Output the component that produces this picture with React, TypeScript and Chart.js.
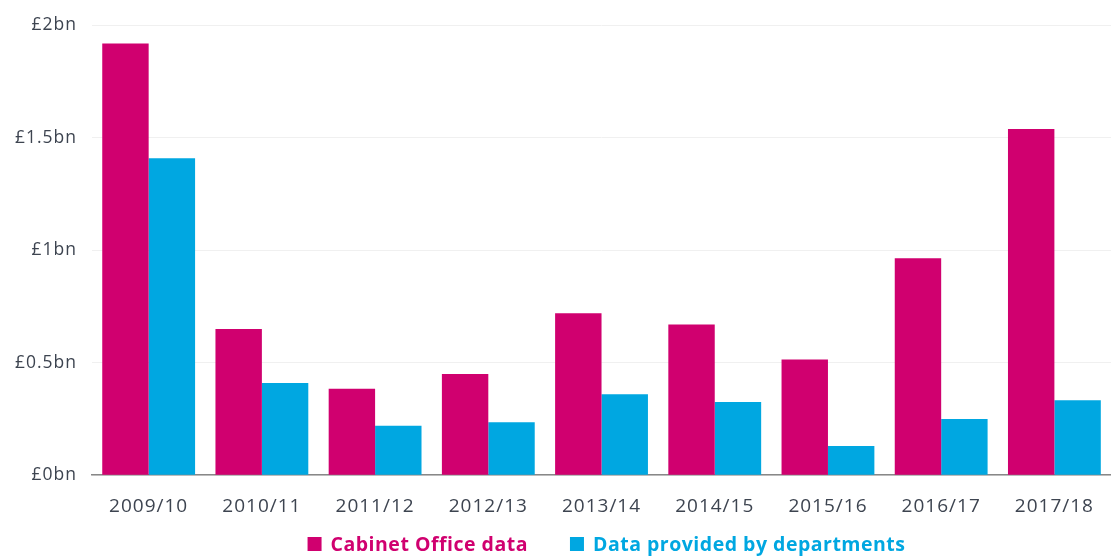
import React, { useEffect, useRef } from "react";
import { Chart, registerables } from "chart.js";

Chart.register(...registerables);

const categories = ["2009/10", "2010/11", "2011/12", "2012/13", "2013/14", "2014/15", "2015/16", "2016/17", "2017/18"];
const cabinetOffice = [1.92, 0.65, 0.385, 0.45, 0.72, 0.67, 0.515, 0.965, 1.54];
const departments = [1.41, 0.41, 0.22, 0.235, 0.36, 0.325, 0.13, 0.25, 0.333];
const yTickLabels: Record<string, string> = { "0": "£0bn", "0.5": "£0.5bn", "1": "£1bn", "1.5": "£1.5bn", "2": "£2bn" };

const MAGENTA = "#D0006F";
const BLUE = "#00A7E1";
const FONT = "'Open Sans', sans-serif";
const SPACING = "1px";

const spacingPlugin = {
  id: "spacing",
  afterInit(chart: any) { chart.ctx.letterSpacing = SPACING; },
  beforeUpdate(chart: any) { chart.ctx.letterSpacing = SPACING; },
  beforeDraw(chart: any) { chart.ctx.letterSpacing = SPACING; },
};

const legendPlugin = {
  id: "customLegend",
  afterDraw(chart: any) {
    const ctx = chart.ctx;
    const area = chart.chartArea;
    const box = 14;
    const gapBoxText = 9;
    const gapItems = 42;
    const y = 544;
    ctx.save();
    ctx.letterSpacing = "0.5px";
    ctx.font = `bold 19.5px ${FONT}`;
    ctx.textBaseline = "middle";
    ctx.textAlign = "left";
    const items = chart.data.datasets.map((ds: any) => ({
      text: ds.label as string,
      color: ds.backgroundColor as string,
      w: ctx.measureText(ds.label).width,
    }));
    const total = items.reduce((s: number, it: any) => s + box + gapBoxText + it.w, 0) + gapItems * (items.length - 1);
    let x = (area.left + area.right) / 2 - total / 2 + 5;
    for (const it of items) {
      ctx.fillStyle = it.color;
      ctx.fillRect(x, y - box / 2, box, box);
      x += box + gapBoxText;
      ctx.fillText(it.text, x, y + 1);
      x += it.w + gapItems;
    }
    ctx.restore();
  },
};

export default function App() {
  const ref = useRef<HTMLCanvasElement>(null);
  useEffect(() => {
    document.body.style.margin = "0";
    const chart = new Chart(ref.current!, {
      type: "bar",
      data: {
        labels: categories,
        datasets: [
          { label: "Cabinet Office data", data: cabinetOffice, backgroundColor: MAGENTA },
          { label: "Data provided by departments", data: departments, backgroundColor: BLUE },
        ],
      },
      plugins: [spacingPlugin, legendPlugin],
      options: {
        animation: false,
        responsive: false,
        maintainAspectRatio: false,
        layout: { padding: { top: 15, right: 0, left: 0, bottom: 26 } },
        datasets: { bar: { categoryPercentage: 0.82, barPercentage: 1.0 } },
        scales: {
          x: {
            grid: { display: false },
            border: { display: true, color: "#888888", width: 1.5 },
            ticks: { color: "#3d4450", font: { family: FONT, size: 19 }, padding: 12 },
          },
          y: {
            min: 0,
            max: 2,
            grid: { color: "#f0f0f0", drawTicks: false },
            border: { display: false },
            ticks: {
              stepSize: 0.5,
              padding: 15,
              color: "#3d4450",
              font: { family: FONT, size: 17.5 },
              callback: (v: any) => yTickLabels[String(v)] ?? "",
            },
          },
        },
        plugins: {
          tooltip: { enabled: false },
          legend: { display: false },
        },
      },
    });
    return () => chart.destroy();
  }, []);
  return (
    <div style={{ width: 1111, height: 556 }}>
      <canvas ref={ref} width={1111} height={556} style={{ display: "block" }} />
    </div>
  );
}
